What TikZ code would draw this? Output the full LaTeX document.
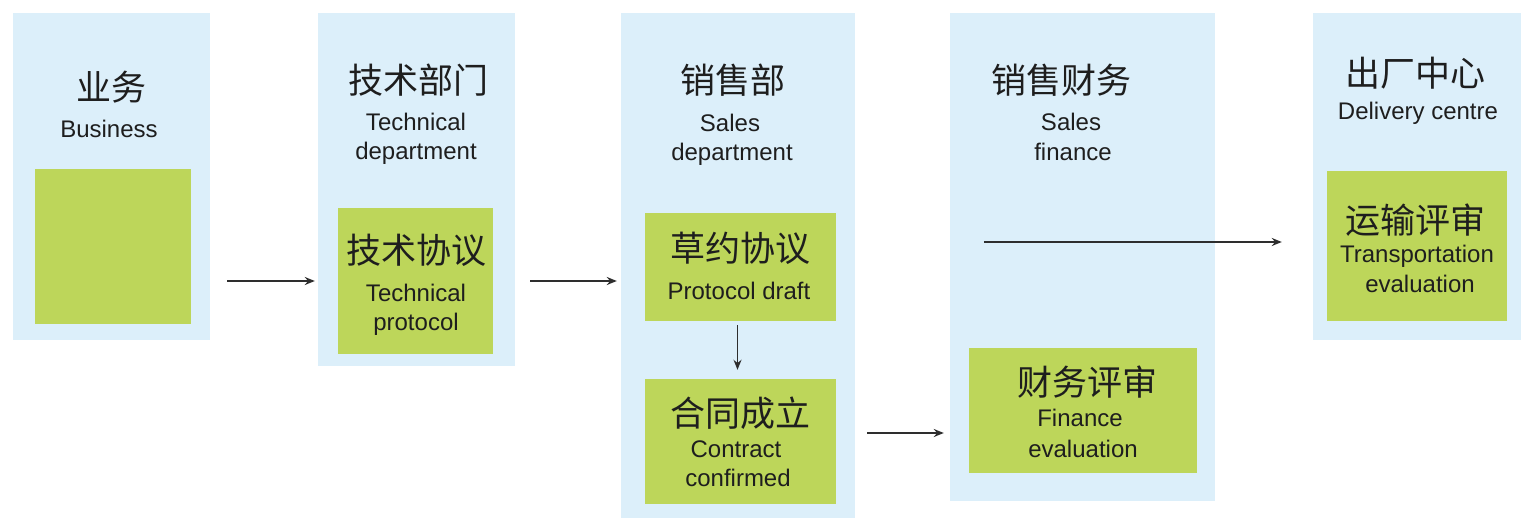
\documentclass[tikz,border=0pt]{standalone}
\usepackage{fontspec}
\setmainfont{Liberation Sans}
\newfontfamily\cjkf{Noto Sans CJK SC}
\usetikzlibrary{arrows.meta}
\definecolor{lanecol}{HTML}{DCEFFA}
\definecolor{actcol}{HTML}{BDD65A}
\definecolor{txtcol}{HTML}{1E1E1E}
\definecolor{arrcol}{HTML}{2E2E2E}
\begin{document}
\begin{tikzpicture}[x=1pt,y=-1pt,
  lanebox/.style={fill=lanecol, draw=none, inner sep=0pt},
  actbox/.style={fill=actcol, draw=none, inner sep=0pt},
  cn/.style={font=\cjkf\fontsize{35}{35}\selectfont, inner sep=0pt, text=txtcol},
  en/.style={font=\fontsize{24}{29}\selectfont, inner sep=0pt, anchor=base, text=txtcol},
  arr/.style={draw=arrcol, line width=1.6pt, -{Stealth[length=10pt,width=8pt]}}]
\fill[white] (0,0) rectangle (1521,518);
\useasboundingbox (0,0) rectangle (1521,518);
% lanes
\node[lanebox, minimum width=197pt, minimum height=327pt] (lane1) at (111.5,176.5) {};
\node[lanebox, minimum width=197pt, minimum height=353pt] (lane2) at (416.5,189.5) {};
\node[lanebox, minimum width=234pt, minimum height=505pt] (lane3) at (738,265.5) {};
\node[lanebox, minimum width=265pt, minimum height=488pt] (lane4) at (1082.5,257) {};
\node[lanebox, minimum width=208pt, minimum height=327pt] (lane5) at (1417,176.5) {};
% activity boxes
\node[actbox, minimum width=156pt, minimum height=155pt] (b1) at (113,246.5) {};
\node[actbox, minimum width=155pt, minimum height=146pt] (b2) at (415.5,281) {};
\node[actbox, minimum width=191pt, minimum height=108pt] (b3) at (740.5,267) {};
\node[actbox, minimum width=191pt, minimum height=125pt] (b4) at (740.5,441.5) {};
\node[actbox, minimum width=228pt, minimum height=125pt] (b5) at (1083,410.5) {};
\node[actbox, minimum width=180pt, minimum height=150pt] (b6) at (1417,246) {};
% lane titles
\node[cn] (t1c) at (111,87) {业务};
\node[en] (t1e) at (109,138) {Business};
\node[cn] (t2c) at (418,80) {技术部门};
\node[en] (t2e) at (416,131) {Technical};
\node[en] (t2f) at (416,160) {department};
\node[cn] (t3c) at (733,80) {销售部};
\node[en] (t3e) at (730,132) {Sales};
\node[en] (t3f) at (732,161) {department};
\node[cn] (t4c) at (1061,80) {销售财务};
\node[en] (t4e) at (1071,131) {Sales};
\node[en] (t4f) at (1073,161) {finance};
\node[cn] (t5c) at (1415,73) {出厂中心};
\node[en] (t5e) at (1418,120) {Delivery centre};
% activity texts
\node[cn] (s2c) at (416,250) {技术协议};
\node[en] (s2e) at (416,302) {Technical};
\node[en] (s2f) at (416,331) {protocol};
\node[cn] (s3c) at (740,248) {草约协议};
\node[en] (s3e) at (739,300) {Protocol draft};
\node[cn] (s4c) at (740,413) {合同成立};
\node[en] (s4e) at (736,457) {Contract};
\node[en] (s4f) at (738,486) {confirmed};
\node[cn] (s5c) at (1087,382) {财务评审};
\node[en] (s5e) at (1080,427) {Finance};
\node[en] (s5f) at (1083,457) {evaluation};
\node[cn] (s6c) at (1415,220) {运输评审};
\node[en] (s6e) at (1417,263) {Transportation};
\node[en] (s6f) at (1420,293) {evaluation};
% connectors
\coordinate (r3) at (0,433);
\coordinate (r4) at (0,242);
\draw[arr, shorten <=17pt, shorten >=3pt] (lane1.east |- b2.center) -- (lane2.west |- b2.center);
\draw[arr, shorten <=15pt, shorten >=4pt] (lane2.east |- b2.center) -- (lane3.west |- b2.center);
\draw[arr, shorten <=4pt, shorten >=9pt] ([xshift=-3pt]b3.south) -- ([xshift=-3pt]b4.north);
\draw[arr, shorten <=12pt, shorten >=6pt] (lane3.east |- r3) -- (lane4.west |- r3);
\draw[arr, shorten <=34pt, shorten >=31pt] (lane4.west |- r4) -- (lane5.west |- r4);
\end{tikzpicture}
\end{document}
